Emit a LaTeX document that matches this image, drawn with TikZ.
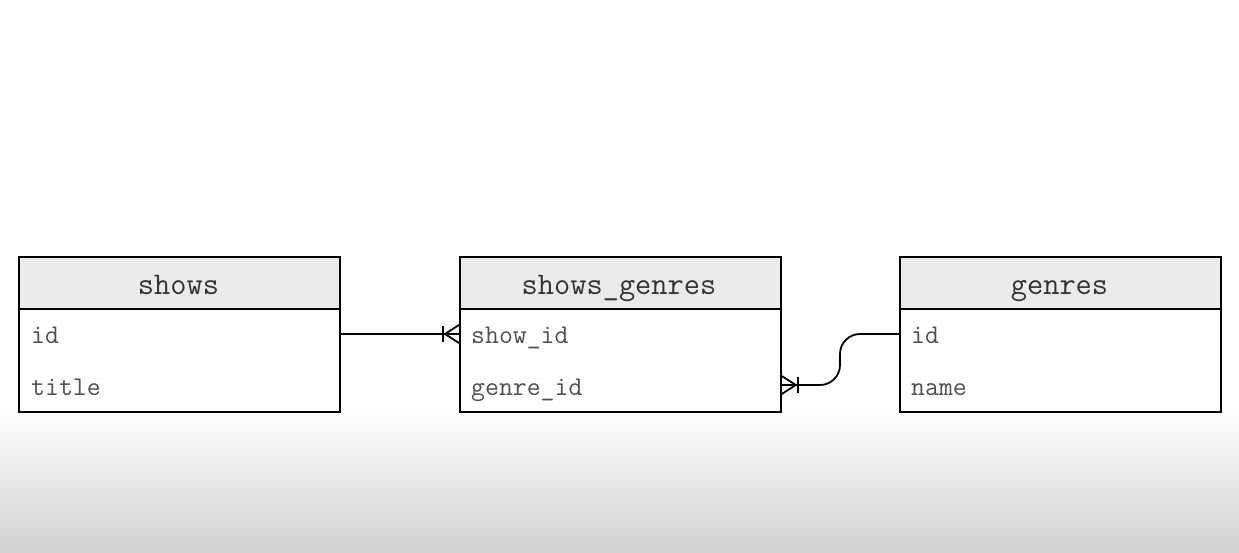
\documentclass[tikz,border=0pt]{standalone}
\usepackage{fontspec}
\usetikzlibrary{calc}
\begin{document}
\begin{tikzpicture}[x=1pt,y=-1pt,
  hdr/.style={draw=black,line width=1.8pt,fill=hdrgray,minimum width=321pt,minimum height=52pt,inner sep=0pt,anchor=north west},
  bdy/.style={draw=black,line width=1.8pt,fill=white,minimum width=321pt,minimum height=103pt,inner sep=0pt,anchor=north west},
  htext/.style={font=\ttfamily\fontsize{31.5}{31.5}\selectfont,text=hdrtext,anchor=base,inner sep=0pt},
  rtext/.style={font=\ttfamily\fontsize{27}{27}\selectfont,text=rowtext,anchor=base west,inner sep=0pt},
  conn/.style={draw=black,line width=1.8pt},
]
\definecolor{hdrgray}{HTML}{EBEBEB}
\definecolor{hdrtext}{HTML}{333333}
\definecolor{rowtext}{HTML}{505050}
\definecolor{bgbottom}{HTML}{D0D3D1}
\useasboundingbox (0,0) rectangle (1239,552);
\fill[white] (0,0) rectangle (1239,408);
\shade[top color=white,bottom color=bgbottom] (0,408) rectangle (1239,552);

% tables
\foreach \nm/\x in {shows/18,sg/459,genres/899}{
  \node[bdy] (\nm-b) at (\x,308) {};
  \node[hdr] (\nm-h) at (\x,256) {};
}
\node[htext] (shows-t) at (178.5,294) {shows};
\node[htext] (sg-t) at (619,294) {shows\_genres};
\node[htext] (genres-t) at (1059.5,294) {genres};

\node[rtext] (shows-id) at (31,343) {id};
\node[rtext] (shows-title) at (31,395.5) {title};
\node[rtext] (sg-show) at (471,343) {show\_id};
\node[rtext] (sg-genre) at (471,395.5) {genre\_id};
\node[rtext] (genres-id) at (911,343) {id};
\node[rtext] (genres-name) at (911,395.5) {name};

% connector shows.id -> shows_genres.show_id
\coordinate (a1) at (shows-b.east |- 0,334);
\coordinate (a2) at (sg-b.west |- 0,334);
\draw[conn] (a1) -- (a2);
\draw[conn] ($(a2)+(-16,-8)$) -- ($(a2)+(-16,8)$);
\draw[conn] ($(a2)+(0,-9)$) -- ($(a2)+(-14,0)$) -- ($(a2)+(0,9)$);

% connector genres.id -> shows_genres.genre_id
\coordinate (b1) at (genres-b.west |- 0,334);
\coordinate (b2) at (sg-b.east |- 0,385);
\draw[conn,rounded corners=20pt] (b1) -- (840,334) -- (840,385) -- (b2);
\draw[conn] ($(b2)+(16,-8)$) -- ($(b2)+(16,8)$);
\draw[conn] ($(b2)+(0,-9)$) -- ($(b2)+(14,0)$) -- ($(b2)+(0,9)$);
\end{tikzpicture}
\end{document}
